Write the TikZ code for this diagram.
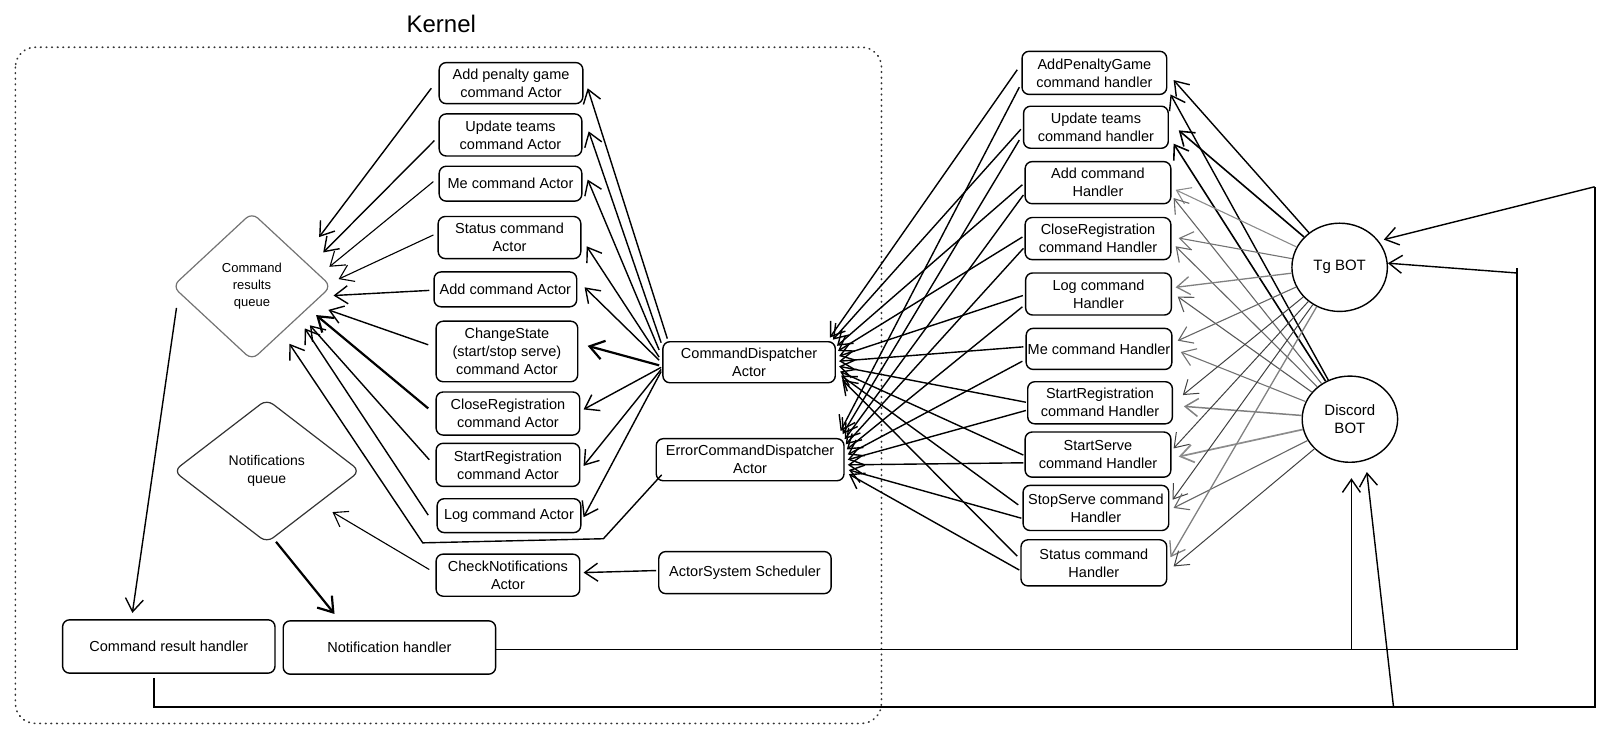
\documentclass[tikz,border=0pt]{standalone}
\usepackage{fontspec}
\setmainfont{Liberation Sans}
\usetikzlibrary{arrows.meta,calc,shapes.geometric}
\begin{document}
\begin{tikzpicture}[x=1.0261pt,y=-1.0261pt,
  box/.style={draw, line width=1.4pt, rounded corners=7pt, align=center, inner sep=0pt, font=\fontsize{14.5}{18}\selectfont},
  wh/.style 2 args={minimum width={#1*1.0261pt}, minimum height={#2*1.0261pt}},
  arr/.style={line width=1.4pt, -{Straight Barb[length=13pt,width=18pt]}},
  thinarr/.style={line width=1.1pt, -{Straight Barb[length=13pt,width=18pt]}},
  thickarr/.style={line width=2.2pt, -{Straight Barb[length=14pt,width=19pt]}},
  conn/.style={line width=1.8pt},
  bot/.style={draw, ellipse, line width=1.4pt, align=center, inner sep=0pt, font=\fontsize{15}{18}\selectfont},
  queue/.style={draw, diamond, line width=1.2pt, rounded corners=8pt, align=center, inner sep=0pt}
]
\path[use as bounding box] (0,0) rectangle (1568,716);

% Kernel frame
\draw[line width=1.7pt, black!80, dash pattern=on 0.6pt off 5pt, line cap=round, rounded corners=20pt] (15,46) rectangle (859,705);
\node[font=\fontsize{24}{28}\selectfont] (kernel) at (430,23) {Kernel};

% queues
\node[queue, draw=black!55, wh={155}{144}, font=\fontsize{13}{17}\selectfont] (CRQ) at (245.5,279) {Command\\results\\queue};
\node[queue, draw=black!80, wh={182}{140}, font=\fontsize{14}{18}\selectfont] (NQ) at (260,459) {Notifications\\queue};

% actors
\node[box, wh={140}{40}] (A1) at (498,81) {Add penalty game\\command Actor};
\node[box, wh={139}{41}] (A2) at (497.5,131.5) {Update teams\\command Actor};
\node[box, wh={139}{34}] (A3) at (497.5,179) {Me command Actor};
\node[box, wh={139}{41}] (A4) at (496.5,231.5) {Status command\\Actor};
\node[box, wh={139}{34}] (A5) at (492.5,282) {Add command Actor};
\node[box, wh={138}{59}] (A6) at (494,342.5) {ChangeState\\(start/stop serve)\\command Actor};
\node[box, wh={140}{42}] (A7) at (495,403) {CloseRegistration\\command Actor};
\node[box, wh={140}{42}] (A8) at (495,453) {StartRegistration\\command Actor};
\node[box, wh={140}{33}] (A9) at (496,502.5) {Log command Actor};
\node[box, wh={140}{41}] (A10) at (495,560.5) {CheckNotifications\\Actor};

\node[box, wh={168}{40}] (CD) at (730,353) {CommandDispatcher\\Actor};
\node[box, wh={183}{41}] (ECD) at (731,448) {ErrorCommandDispatcher\\Actor};
\node[box, wh={168}{41}] (ASS) at (726,558) {ActorSystem Scheduler};

\node[box, wh={207}{52}] (CRH) at (164.5,630) {Command result handler};
\node[box, wh={207}{52}] (NH) at (379.5,631) {Notification handler};

% handlers
\node[box, wh={141}{42}] (H1) at (1066.5,71) {AddPenaltyGame\\command handler};
\node[box, wh={141}{41}] (H2) at (1068,124) {Update teams\\command handler};
\node[box, wh={142}{41}] (H3) at (1070,178) {Add command\\Handler};
\node[box, wh={142}{41}] (H4) at (1070,232.5) {CloseRegistration\\command Handler};
\node[box, wh={142}{41}] (H5) at (1070.5,286.5) {Log command\\Handler};
\node[box, wh={142}{40}] (H6) at (1071,340) {Me command Handler};
\node[box, wh={141}{41}] (H7) at (1072,392.5) {StartRegistration\\command Handler};
\node[box, wh={142}{44}] (H8) at (1070,443) {StartServe\\command Handler};
\node[box, wh={142}{44}] (H9) at (1068,495) {StopServe command\\Handler};
\node[box, wh={142}{45}] (H10) at (1066,548.5) {Status command\\Handler};

% bots
\node[bot, wh={93}{86}] (TG) at (1305.5,260.5) {Tg BOT};
\node[bot, wh={93}{84}] (DB) at (1315.5,408.5) {Discord\\BOT};

% actors -> command results queue
\draw[arr] ($(A1.west)+(-7,5)$) -- ($(CRQ.center)+(65.5,-48)$);
\draw[arr] ($(A2.west)+(-4,5.5)$) -- ($(CRQ.center)+(69.5,-33)$);
\draw[thinarr] ($(A3.west)+(-5,-2)$) -- ($(CRQ.center)+(75.5,-19)$);
\draw[thinarr] ($(A4.west)+(-4,-2.5)$) -- ($(CRQ.center)+(84.5,-7)$);
\draw[arr] ($(A5.west)+(-4,1)$) -- ($(CRQ.center)+(79.5,9)$);
\draw[arr] ($(A6.west)+(-7,-6.5)$) -- ($(CRQ.center)+(74.5,23)$);
\draw[thickarr] ($(A7.west)+(-7,-5)$) -- ($(CRQ.center)+(62.5,28)$);
\draw[arr] ($(A8.west)+(-6,-5)$) -- ($(CRQ.center)+(56.5,38)$);
\draw[arr] ($(A9.west)+(-8,-0.5)$) -- ($(CRQ.center)+(51.5,41)$);
\coordinate (e1) at (588,525);
\coordinate (e2) at (412,529);
\draw[arr] ($(ECD.south west)+(6,-6.5)$) -- (e1) -- (e2) -- ($(CRQ.center)+(36.5,56)$);

% dispatcher -> actors
\draw[arr] ($(CD.west)+(5,-23)$) -- ($(A1.east)+(4,5)$);
\draw[arr] ($(CD.west)+(-1,-19)$) -- ($(A2.east)+(6,-3.5)$);
\draw[arr] ($(CD.west)+(-3,-12)$) -- ($(A3.east)+(5,-4)$);
\draw[arr] ($(CD.west)+(-3,-5)$) -- ($(A4.east)+(5,8.5)$);
\draw[arr] ($(CD.west)+(-3,-2)$) -- ($(A5.east)+(7,-2)$);
\draw[thickarr] ($(CD.west)+(-3,3)$) -- ($(A6.east)+(9,-5.5)$);
\draw[arr] ($(CD.west)+(-1,5)$) -- ($(A7.east)+(3,-4)$);
\draw[arr] ($(CD.west)+(-1,7)$) -- ($(A8.east)+(3,1)$);
\draw[arr] ($(CD.west)+(-1,9)$) -- ($(A9.east)+(2,1.5)$);

% scheduler / notifications
\draw[arr] ($(ASS.west)+(-2,-2)$) -- ($(A10.east)+(3,-2.5)$);
\draw[thinarr] ($(A10.west)+(-6,-5.5)$) -- ($(NQ.center)+(64,40)$);
\draw[thickarr] ($(NQ.center)+(9,69)$) -- ($(NH.north)+(-53.5,-6)$);
\draw[arr] ($(CRQ.center)+(-73.5,21)$) -- ($(CRH.north)+(-35.5,-6)$);

% handlers -> dispatchers
\foreach \i/\ax/\ay/\cx/\cy/\bx/\by/\ex/\ey in {
1/-4/-3/-6/-24/-2/14/-4/-28,
2/-2/2/-3/-22/-3.5/12.5/-2/-25,
3/-2/2/1/-16/-1/12/0/-20,
4/-2/-1.5/2/-11/-1/9.5/1/-15,
5/-2/1.5/3/-6/-2.5/12.5/2/-10,
6/-2/-2/3/-1/-3/12/3/-5,
7/-1/-0.5/3/4/-1/7.5/3/0,
8/-1/0.5/4/9/-1/8/3/5,
9/-4/-3/5/13/-1/10/4/10,
10/-3/-6.5/6/17/-1/7/4/14}
{
  \draw[arr] ($(H\i.west)+(\ax,\ay)$) -- ($(CD.east)+(\cx,\cy)$);
  \draw[arr] ($(H\i.west)+(\bx,\by)$) -- ($(ECD.east)+(\ex,\ey)$);
}

% bots -> handlers
\foreach \i/\tx/\ty/\dx/\dy/\tc/\dc/\tw/\dw in {
1/6/7/3/21/black/black/1.4/1.4,
2/9.5/3/4.5/16/black/black/1.6/1.6,
3/4/7/2/15/black!45/black!60/1.1/1.1,
4/7/-0.5/4/7.5/black!55/black!60/1.1/1.1,
5/3.5/-6.5/5.5/2.5/black!50/black!65/1.3/1.1,
6/5/-8/8/3/black!60/black!55/1.1/1.1,
7/9.5/-7.5/10.5/3.5/black!75/black!50/1/1.5,
8/2/-6/7/2/black!75/black!45/1/1.7,
9/3/-8/4/0/black!75/black!60/1/1.1,
10/3/-5.5/6/3.5/black!50/black!75/1.3/1}
{
  \draw[line width=\tw pt, draw=\tc, -{Straight Barb[length=13pt,width=18pt]}] (TG) -- ($(H\i.east)+(\tx,\ty)$);
  \draw[line width=\dw pt, draw=\dc, -{Straight Barb[length=13pt,width=18pt]}] (DB) -- ($(H\i.east)+(\dx,\dy)$);
}

% outputs to bots
\coordinate (n1) at (1478,633);
\coordinate (n2) at (1478,261);
\coordinate (n3) at (1478,266);
\coordinate (n4) at (1317,633);
\draw[conn] ($(NH.east)+(0,2)$) -- (n1) -- (n2);
\draw[arr] (n3) -- ($(TG.center)+(47,-4)$);
\draw[arr] (n4) -- ($(DB.center)+(1.5,57.5)$);

\coordinate (c1) at (150,689);
\coordinate (c2) at (1554,689);
\coordinate (c3) at (1554,182);
\coordinate (c4) at (1358,689);
\draw[conn] ($(CRH.south)+(-14.5,4)$) -- (c1) -- (c2) -- (c3);
\draw[arr] (c3) -- ($(TG.center)+(43,-27)$);
\draw[arr] (c4) -- ($(DB.center)+(16.5,51.5)$);
\end{tikzpicture}
\end{document}
